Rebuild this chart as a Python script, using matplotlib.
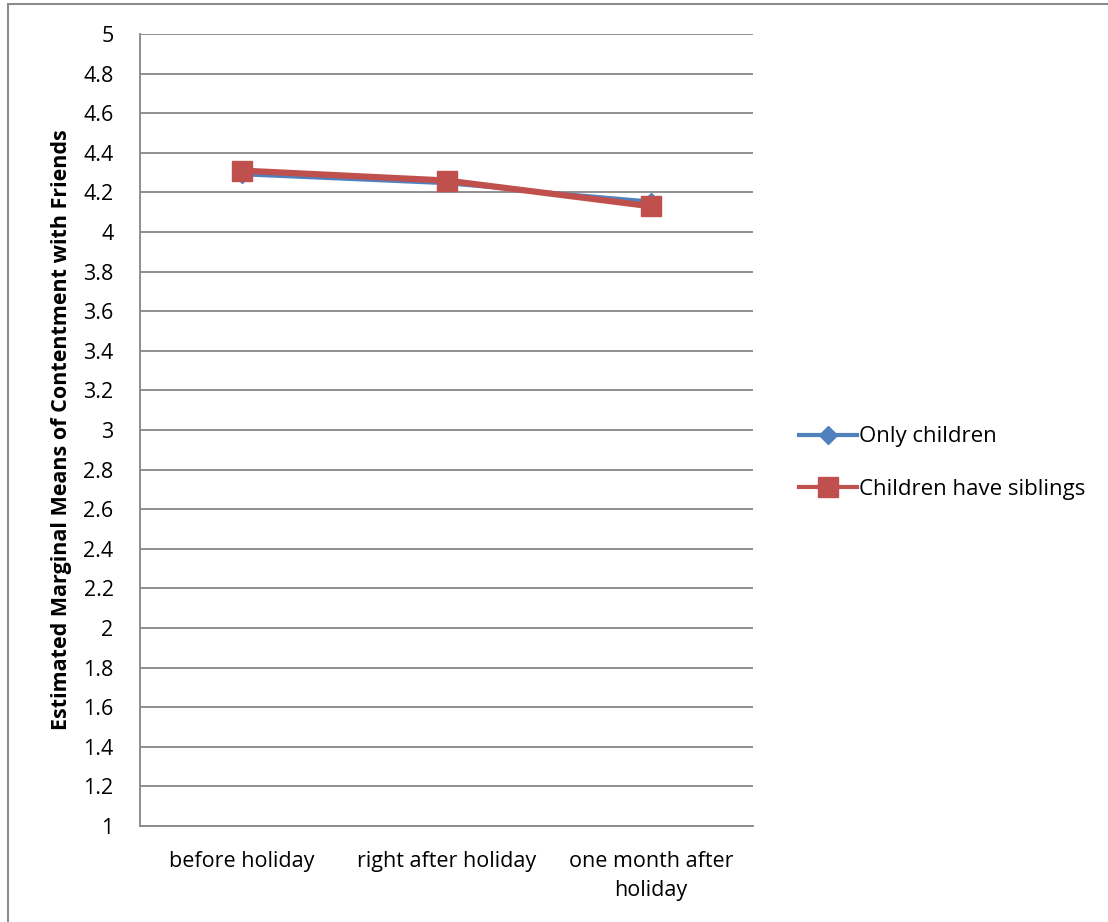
import matplotlib.pyplot as plt
from matplotlib.patches import Rectangle
from matplotlib.lines import Line2D

plt.rcParams['font.family'] = ['Open Sans', 'DejaVu Sans']

# time points and estimated marginal means
periods = ['before holiday', 'right after holiday', 'one month after\nholiday']
only_children = [4.29, 4.245, 4.155]
with_siblings = [4.31, 4.26, 4.13]
yticks = [1, 1.2, 1.4, 1.6, 1.8, 2, 2.2, 2.4, 2.6, 2.8, 3, 3.2, 3.4, 3.6, 3.8, 4, 4.2, 4.4, 4.6, 4.8, 5]
ytick_labels = ['1', '1.2', '1.4', '1.6', '1.8', '2', '2.2', '2.4', '2.6', '2.8', '3',
                '3.2', '3.4', '3.6', '3.8', '4', '4.2', '4.4', '4.6', '4.8', '5']

blue = '#4F81BD'
red = '#C0504D'
grid = '#878787'

fig = plt.figure(figsize=(11.08, 9.22), dpi=100)
# outer chart frame (only top and left edges visible)
fig.patches.append(Rectangle((8 / 1108, -0.1), 1.2, 1 - 4 / 922 + 0.1,
                             transform=fig.transFigure, fill=False,
                             edgecolor='#8c8c8c', linewidth=1.5))

ax = fig.add_axes([140 / 1108, 1 - 826 / 922, 613 / 1108, 792 / 922])
x = [0, 1, 2]
ax.plot(x, only_children, color=blue, linewidth=2.5, marker='D', markersize=8,
        markeredgecolor=blue, label='Only children', zorder=3)
ax.plot(x, with_siblings, color=red, linewidth=4.5, marker='s', markersize=14,
        markeredgecolor=red, label='Children have siblings', zorder=4)

ax.set_xlim(-0.5, 2.5)
ax.set_ylim(1, 5)
ax.set_yticks(yticks)
ax.set_yticklabels(ytick_labels)
ax.set_xticks(x)
ax.set_xticklabels(periods, linespacing=1.5)
ax.yaxis.grid(True, color=grid, linewidth=1.3)
ax.set_axisbelow(True)
for side in ['top', 'right']:
    ax.spines[side].set_visible(False)
for side in ['left', 'bottom']:
    ax.spines[side].set_color(grid)
    ax.spines[side].set_linewidth(1.3)
ax.tick_params(axis='both', length=0, labelsize=15.5, colors='black')
ax.tick_params(axis='y', pad=19)
ax.tick_params(axis='x', pad=18)
ax.set_ylabel('Estimated Marginal Means of Contentment with Friends',
              fontsize=15.5, fontweight='bold', labelpad=8)

handles = [Line2D([], [], color=blue, linewidth=3, marker='D', markersize=9),
           Line2D([], [], color=red, linewidth=3, marker='s', markersize=14)]
fig.legend(handles, ['Only children', 'Children have siblings'],
           loc='center left', bbox_to_anchor=(779 / 1108, 1 - 463 / 922),
           frameon=False, fontsize=16, handlelength=2.6, handletextpad=0.1,
           labelspacing=1.4)

fig.savefig('out.png', dpi=100)
